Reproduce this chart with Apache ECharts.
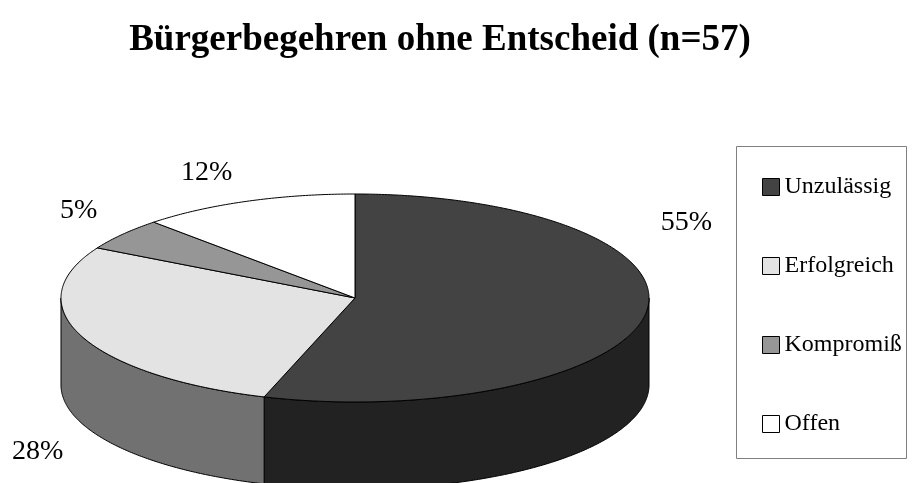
<!DOCTYPE html>
<html><head><meta charset="utf-8">
<script src="https://cdn.jsdelivr.net/npm/echarts@6/dist/echarts.min.js"></script>
<style>html,body{margin:0;padding:0;background:#fff}#c{width:912px;height:483px}</style>
</head><body><div id="c"></div>
<script>
// ---- data ----
const categories = ['Unzulässig', 'Erfolgreich', 'Kompromiß', 'Offen'];
const percentages = [55, 28, 5, 12];
const titleText = 'Bürgerbegehren ohne Entscheid (n=57)';

// ---- styles / layout ----
const topColors = ['#434343', '#e3e3e3', '#969696', '#ffffff'];
const sideColors = ['#222222', '#717171', '#4b4b4b', '#808080'];
const labelOffsets = [[41, -92], [-44, 115], [-44, -24], [-40, -29]];
const PIE = { cx: 355, cy: 298, rx: 294, ry: 104, depth: 87 };
const FONT = '"Liberation Serif","Times New Roman",serif';

const total = percentages.reduce((a, b) => a + b, 0);
const starts = [];
let acc = 0;
percentages.forEach(v => { starts.push(acc); acc += v; });

function pt(theta, dy) {
  return [PIE.cx + PIE.rx * Math.sin(theta), PIE.cy - PIE.ry * Math.cos(theta) + (dy || 0)];
}
function arc(a, b, dy) {
  const n = Math.max(2, Math.ceil(Math.abs(b - a) / 0.01));
  const out = [];
  for (let i = 0; i <= n; i++) out.push(pt(a + (b - a) * i / n, dy));
  return out;
}

function makeRender(idx) {
  return function (params, api) {
    const v = api.value(0);
    const a0 = starts[idx] / total * 2 * Math.PI;
    const a1 = a0 + v / total * 2 * Math.PI;
    const children = [];
    const s0 = Math.max(a0, Math.PI / 2), s1 = Math.min(a1, 3 * Math.PI / 2);
    if (s1 > s0) {
      const pts = arc(s0, s1, 0).concat(arc(s1, s0, PIE.depth));
      children.push({ type: 'polygon', shape: { points: pts },
        style: { fill: sideColors[idx], stroke: '#000', lineWidth: 1 } });
    }
    const topPts = [[PIE.cx, PIE.cy]].concat(arc(a0, a1, 0));
    children.push({ type: 'polygon', shape: { points: topPts },
      style: { fill: topColors[idx], stroke: '#000', lineWidth: 1, lineJoin: 'round' } });
    const mid = (a0 + a1) / 2;
    const p = pt(mid, 0);
    children.push({ type: 'text', x: p[0] + labelOffsets[idx][0], y: p[1] + labelOffsets[idx][1],
      style: { text: Math.round(v / total * 100) + '%', font: '28px ' + FONT, fill: '#000',
        align: 'center', verticalAlign: 'middle' } });
    return { type: 'group', children: children };
  };
}

const series = categories.map((name, i) => ({
  type: 'custom',
  name: name,
  coordinateSystem: 'none',
  itemStyle: { color: topColors[i], borderColor: '#000', borderWidth: 1 },
  data: [[percentages[i]]],
  renderItem: makeRender(i)
}));

const chart = echarts.init(document.getElementById('c'), null, { renderer: 'canvas' });
chart.setOption({
  animation: false,
  backgroundColor: '#ffffff',
  legend: {
    orient: 'vertical', left: 762, top: 175, padding: 0,
    itemWidth: 17, itemHeight: 17, itemGap: 55, icon: 'rect',
    itemStyle: { borderColor: '#000', borderWidth: 1 },
    textStyle: { fontFamily: FONT, fontSize: 24, color: '#000', lineHeight: 24 },
    data: categories
  },
  graphic: [
    { type: 'text', x: 440, y: 40,
      style: { text: titleText, font: 'bold 37px ' + FONT, fill: '#000', align: 'center', verticalAlign: 'middle' } },
    { type: 'rect', shape: { x: 736.5, y: 146.5, width: 170, height: 312 },
      style: { fill: 'none', stroke: '#808080', lineWidth: 1 } }
  ],
  series: series
});
</script></body></html>
